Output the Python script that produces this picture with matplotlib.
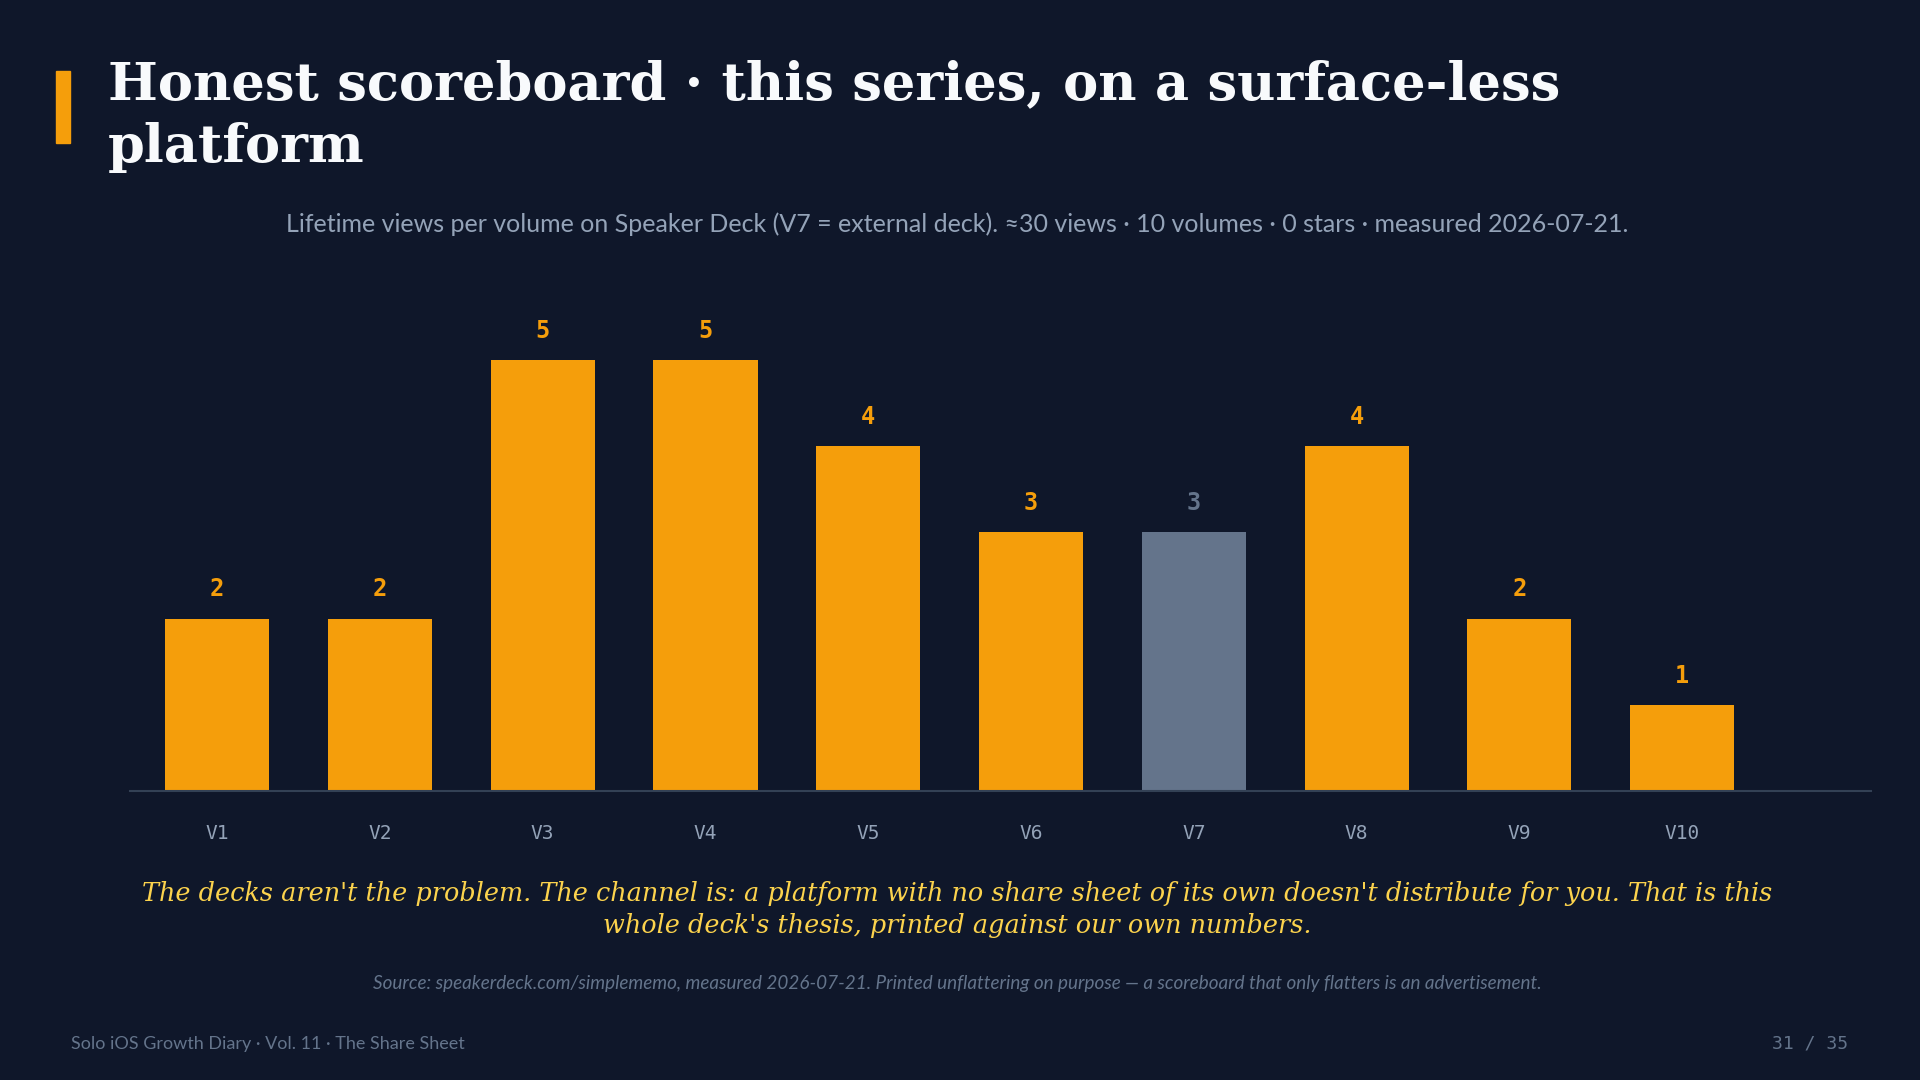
import matplotlib.pyplot as plt
from matplotlib.patches import Rectangle

# Dados: visualizações por volume
volumes = ['V1', 'V2', 'V3', 'V4', 'V5', 'V6', 'V7', 'V8', 'V9', 'V10']
views = [2, 2, 5, 5, 4, 3, 3, 4, 2, 1]
external = ['V7']

BG = '#0f172a'
ORANGE = '#f59e0b'
GRAY = '#64748b'

W, H = 1920, 1080
fig = plt.figure(figsize=(19.2, 10.8), dpi=100, facecolor=BG)

def fx(px):
    return px / W

def fy(py):
    return 1 - py / H

# Eixo principal
ax_left, ax_right = 130, 1871
ax_bottom, ax_top = 791, 300
ax = fig.add_axes([fx(ax_left), fy(ax_bottom), fx(ax_right - ax_left), (ax_bottom - ax_top) / H])
ax.set_facecolor(BG)

x = list(range(len(volumes)))
cores = [GRAY if v in external else ORANGE for v in volumes]
ax.bar(x, views, width=0.64, color=cores, zorder=2)

for xi, v, c in zip(x, views, cores):
    ax.text(xi, v + 0.2, str(v), ha='center', va='bottom', color=c,
            fontsize=17, fontweight='bold', family='DejaVu Sans Mono')

ax.set_xlim(-0.535, 10.16)
ax.set_ylim(0, (ax_bottom - ax_top) / 86.2)
ax.set_xticks(x)
ax.set_xticklabels(volumes, family='DejaVu Sans Mono', fontsize=14, color='#94a3b8')
ax.tick_params(axis='x', length=0, pad=24)
ax.set_yticks([])
for s in ['top', 'right', 'left']:
    ax.spines[s].set_visible(False)
ax.spines['bottom'].set_color('#334155')
ax.spines['bottom'].set_linewidth(1.5)

# Barra de destaque e título
fig.patches.append(Rectangle((fx(56), fy(143)), fx(14), (143 - 71) / H,
                             transform=fig.transFigure, color=ORANGE))
fig.text(fx(108), fy(162), 'Honest scoreboard · this series, on a surface-less\nplatform',
         family='DejaVu Serif', fontweight='bold', fontsize=38, color='#f8fafc',
         ha='left', va='baseline', linespacing=1.29)

fig.text(fx(957), fy(224), 'Lifetime views per volume on Speaker Deck (V7 = external deck). '
         '≈30 views · 10 volumes · 0 stars · measured 2026-07-21.',
         family='Lato', fontsize=18, color='#94a3b8', ha='center', va='center')

# Conclusão
fig.text(fx(957), fy(909.5), "The decks aren't the problem. The channel is: a platform with no share sheet "
         "of its own doesn't distribute for you. That is this\nwhole deck's thesis, printed "
         "against our own numbers.",
         family='DejaVu Serif', style='italic', fontsize=18.4, color='#fcd34d',
         ha='center', va='center', linespacing=1.38)

fig.text(fx(957), fy(983), 'Source: speakerdeck.com/simplememo, measured 2026-07-21. Printed unflattering '
         'on purpose — a scoreboard that only flatters is an advertisement.',
         family='Lato', style='italic', fontsize=13.6, color=GRAY, ha='center', va='center')

# Rodapé
fig.text(fx(71), fy(1044), 'Solo iOS Growth Diary · Vol. 11 · The Share Sheet',
         family='Lato', fontsize=13, color=GRAY, ha='left', va='center')
fig.text(fx(1848), fy(1044), '31 / 35', family='DejaVu Sans Mono', fontsize=13,
         color=GRAY, ha='right', va='center')

fig.savefig('out.png', dpi=100, facecolor=BG)
